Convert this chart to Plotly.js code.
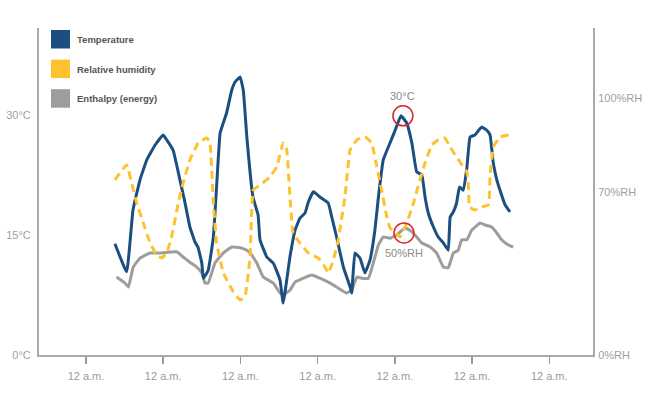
<!DOCTYPE html>
<html>
<head>
<meta charset="utf-8">
<script src="https://cdn.plot.ly/plotly-3.0.1.min.js"></script>
<style>html,body{margin:0;padding:0;background:#fff;}#chart{width:658px;height:398px;}</style>
</head>
<body>
<div id="chart"></div>
<script>
// Time axis in hours (ticks every 24 h, at midnight)
const tickHours = [0, 24, 48, 72, 96, 120, 144];
const tickLabels = ["12 a.m.", "12 a.m.", "12 a.m.", "12 a.m.", "12 a.m.", "12 a.m.", "12 a.m."];

// Temperature (°C)
const tempHours = [9.0,12.65,14.6,16.8,18.9,21.5,24.0,25.1,27.1,29.2,30.8,32.3,33.9,34.8,36.0,36.5,38.0,39.6,40.6,41.7,43.7,45.3,46.3,47.9,48.9,50.0,51.9,53.5,54.1,56.2,58.2,60.3,61.3,63.4,65.0,66.5,68.1,69.1,70.7,72.7,75.3,76.4,77.9,80.0,82.1,82.6,83.6,85.2,86.7,88.3,89.8,90.9,92.4,94.5,96.1,97.9,99.7,101.3,102.8,104.4,105.4,106.4,108.0,109.5,111.1,112.6,113.2,114.2,115.2,116.1,117.3,118.4,119.4,120.9,123.0,124.6,125.6,126.6,127.7,128.7,130.3,131.8];
const temperature = [13.9,10.4,18.1,21.9,24.4,26.25,27.5,26.9,25.6,21.9,19.0,16.0,14.1,13.5,11.5,9.6,10.6,14.75,21.0,27.75,30.25,33.1,34.1,34.75,33.1,27.25,19.75,17.5,14.4,12.25,11.5,9.4,6.5,12.25,15.6,17.1,17.75,19.1,20.4,19.75,19.0,17.25,14.75,11.0,8.5,7.75,12.75,12.1,10.25,11.9,15.6,19.75,24.4,26.5,28.1,29.9,29.0,26.5,22.9,22.5,19.75,17.75,16.0,14.75,14.0,13.1,17.25,17.9,19.0,21.0,20.6,23.4,27.25,27.5,28.5,28.1,27.5,24.0,21.9,20.6,18.75,17.9];

// Relative humidity (%RH)
const humHours = [9.0,12.65,14.2,15.8,17.8,19.9,22.0,23.5,25.1,26.6,28.7,30.2,32.3,34.9,37.5,38.5,39.6,40.6,42.7,45.8,47.9,49.4,51.0,52.0,54.1,57.2,59.3,61.3,62.4,63.4,64.4,66.5,69.1,72.2,74.3,75.3,76.9,78.4,80.5,82.1,84.2,86.7,88.8,90.4,91.9,93.5,94.5,96.1,97.6,99.7,101.8,103.8,105.4,107.5,109.5,111.6,113.2,115.2,117.3,118.4,118.9,119.2,120.9,123.0,125.1,125.6,126.6,128.7,131.3,132.3];
const humidity = [68.1,73.9,66.9,59.1,51.4,43.6,38.9,37.7,39.7,45.9,59.1,66.9,75.9,82.5,84.4,82.9,59.1,43.6,31.9,24.5,21.4,22.6,38.1,64.2,66.1,69.3,73.2,82.5,79.8,61.5,47.5,43.6,39.7,37.7,34.2,31.9,37.0,44.7,61.5,79.8,83.7,84.8,82.5,73.2,64.2,53.7,49.4,47.9,45.9,51.4,59.1,68.1,74.7,81.7,83.7,84.4,80.9,77.0,73.2,71.2,65.4,57.6,56.4,57.6,58.4,69.3,80.9,84.8,85.6,85.6];

// Enthalpy (energy), relative units on the temperature scale
const enthHours = [9.5,12.1,13.2,14.7,16.8,19.9,23.0,28.2,30.2,32.3,34.4,36.0,37.0,38.0,40.1,42.7,45.3,47.9,50.0,51.0,53.1,55.1,58.2,60.3,61.3,63.4,65.0,67.6,70.2,72.7,75.3,77.9,81.0,82.6,84.2,85.7,87.8,89.3,90.9,92.4,94.5,96.6,99.2,101.3,102.8,104.4,107.0,109.0,111.1,112.6,114.2,115.7,116.8,118.4,119.9,122.5,124.0,126.1,127.7,129.2,131.3,132.8];
const enthalpy = [9.75,9.0,8.5,11.0,12.1,12.75,12.75,12.9,12.25,11.6,11.0,10.25,9.0,9.0,11.5,12.75,13.5,13.4,13.1,12.75,11.5,9.75,9.0,7.75,7.5,8.1,9.1,9.6,10.0,9.6,9.1,8.5,7.75,8.1,9.75,9.6,9.6,11.5,13.75,14.75,14.6,15.0,15.9,15.4,14.75,14.0,13.5,12.75,11.0,10.9,12.75,13.1,14.4,14.4,15.6,16.5,16.25,16.0,15.25,14.4,13.75,13.5];

const tempTicks = [0, 15, 30];
const tempTickText = ["0°C", "15°C", "30°C"];
const rhTickPos = [0, 63.4, 100];
const rhTickText = ["0%RH", "70%RH", "100%RH"];

const seriesNames = ["Temperature", "Relative humidity", "Enthalpy (energy)"];
const seriesColors = ["#1b4f80", "#fdc22e", "#9d9d9d"];

// highlighted day: the daily temperature peak around this midnight
const highlightHour = 96;
let peakIdx = -1;
tempHours.forEach((h, i) => {
  if (Math.abs(h - highlightHour) <= 12 && (peakIdx < 0 || temperature[i] > temperature[peakIdx])) peakIdx = i;
});
const peakH = tempHours[peakIdx], peakT = temperature[peakIdx];
let humIdx = 0;
humHours.forEach((h, i) => { if (Math.abs(h - peakH) < Math.abs(humHours[humIdx] - peakH)) humIdx = i; });
const humH = humHours[humIdx], humV = humidity[humIdx];

const font = "Liberation Sans, Arial, Helvetica, sans-serif";
const axisGrey = "#aaaaaa";

const traces = [
  {x: enthHours, y: enthalpy, type: "scatter", mode: "lines", name: seriesNames[2], showlegend: false,
   line: {color: seriesColors[2], width: 3, shape: "spline", smoothing: 0.3}},
  {x: tempHours, y: temperature, type: "scatter", mode: "lines", name: seriesNames[0], showlegend: false,
   line: {color: seriesColors[0], width: 3, shape: "spline", smoothing: 0.3}},
  {x: humHours, y: humidity, type: "scatter", mode: "lines", name: seriesNames[1], yaxis: "y2", showlegend: false,
   line: {color: seriesColors[1], width: 3, dash: "8px,5px", shape: "spline", smoothing: 0.3}}
];

const shapes = [];
const annotations = [];
// manual legend with square swatches
seriesNames.forEach((n, i) => {
  const yTop = 30 + i * 29.6;
  shapes.push({type: "rect", xref: "paper", yref: "paper",
    x0: (51 - 39) / 554, x1: (70 - 39) / 554,
    y0: 1 - (yTop + 18.5 - 28) / 327, y1: 1 - (yTop - 28) / 327,
    fillcolor: seriesColors[i], line: {width: 0}});
  annotations.push({xref: "paper", yref: "paper", x: (75 - 39) / 554, y: 1 - (yTop + 9.5 - 28) / 327,
    xanchor: "left", yanchor: "middle", showarrow: false, text: "<b>" + n + "</b>",
    font: {family: font, size: 9.5, color: "#555555"}});
});
// highlight circles
shapes.push({type: "circle", xref: "x", yref: "y", xsizemode: "pixel", ysizemode: "pixel",
  xanchor: peakH, yanchor: peakT, x0: -8, x1: 12, y0: -10, y1: 10,
  line: {color: "#e0232b", width: 1.5}});
shapes.push({type: "circle", xref: "x", yref: "y2", xsizemode: "pixel", ysizemode: "pixel",
  xanchor: humH, yanchor: humV, x0: -6, x1: 14, y0: -6, y1: 14,
  line: {color: "#e0232b", width: 1.5}});
annotations.push({x: peakH, y: peakT, xref: "x", yref: "y", yshift: 20, xshift: 2, showarrow: false,
  text: "30°C", font: {family: font, size: 11, color: "#8a8a8a"}});
annotations.push({x: humH, y: humV, xref: "x", yref: "y2", yshift: -16, xshift: 4, showarrow: false,
  text: "50%RH", font: {family: font, size: 11, color: "#8a8a8a"}});

const xRange = [-14.6, 157.6];
const layout = {
  width: 658, height: 398,
  margin: {l: 39, r: 65, t: 28, b: 43, pad: 0},
  paper_bgcolor: "#ffffff", plot_bgcolor: "#ffffff",
  showlegend: false,
  font: {family: font, size: 11, color: "#a0a0a0"},
  xaxis: {range: xRange, tickvals: tickHours, ticktext: tickLabels, showgrid: false, zeroline: false,
    showline: true, linecolor: axisGrey, linewidth: 2, ticks: "outside", ticklen: 7, tickwidth: 1.5,
    tickcolor: "#999999", ticklabelstandoff: 3, tickfont: {family: font, size: 11, color: "#9a9a9a"}},
  xaxis2: {range: xRange, overlaying: "x", anchor: "y", side: "bottom", tickvals: tickHours,
    showticklabels: false, showgrid: false, zeroline: false, showline: false,
    ticks: "inside", ticklen: 6, tickwidth: 1.5, tickcolor: "#999999"},
  yaxis: {range: [0, 40.875], tickvals: tempTicks, ticktext: tempTickText, showgrid: false, zeroline: false,
    showline: true, linecolor: axisGrey, linewidth: 2, ticks: "", ticklabelstandoff: 4,
    tickfont: {family: font, size: 11, color: "#a0a0a0"}},
  yaxis2: {range: [0, 127.2], overlaying: "y", side: "right", anchor: "x", tickvals: rhTickPos, ticktext: rhTickText,
    showgrid: false, zeroline: false, showline: true, linecolor: axisGrey, linewidth: 2, ticks: "",
    ticklabelstandoff: 1, tickfont: {family: font, size: 11, color: "#a0a0a0"}},
  shapes: shapes,
  annotations: annotations
};

Plotly.newPlot("chart", traces, layout, {displayModeBar: false, staticPlot: true});
</script>
</body>
</html>
